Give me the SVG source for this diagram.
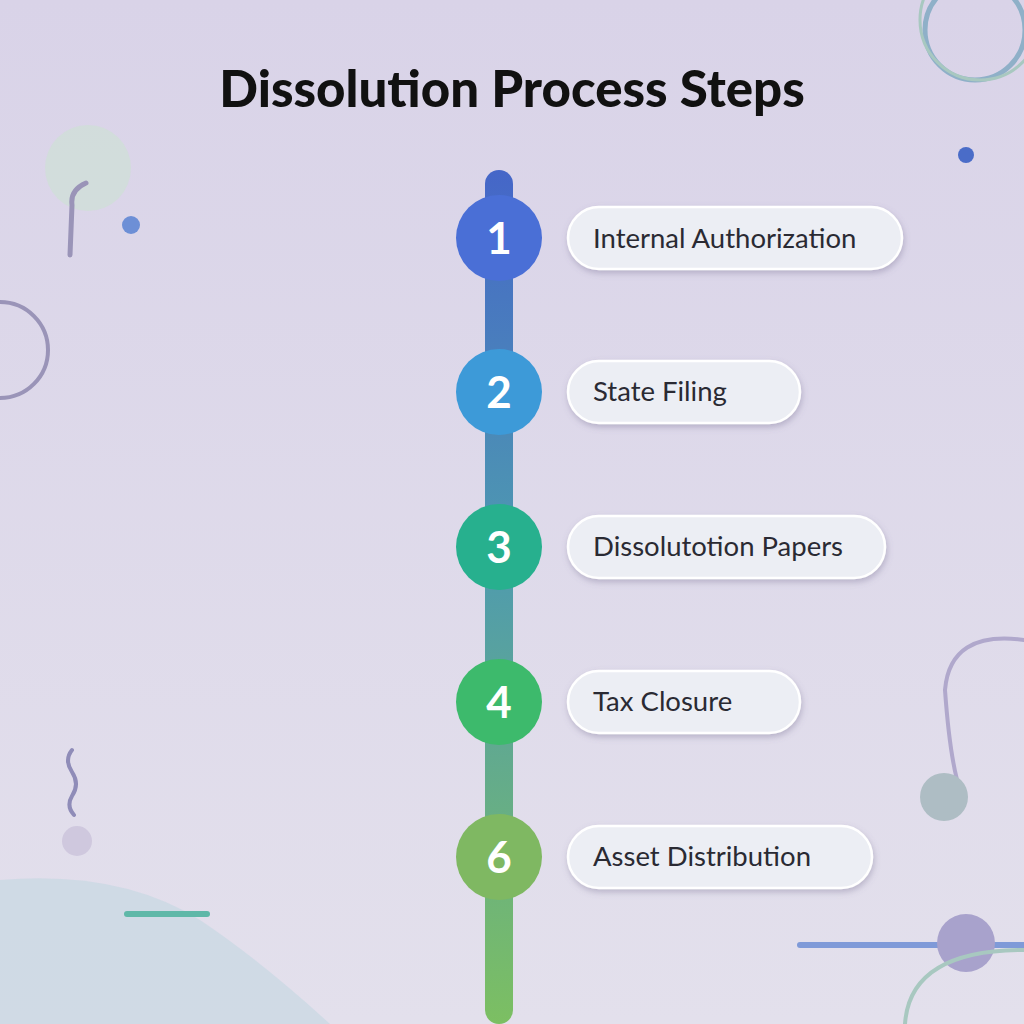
<svg xmlns="http://www.w3.org/2000/svg" width="1024" height="1024" viewBox="0 0 1024 1024">
<defs>
<linearGradient id="bar" x1="0" y1="0" x2="0" y2="1"><stop offset="0" stop-color="#4566c8"/><stop offset="0.45" stop-color="#4e9ab0"/><stop offset="1" stop-color="#7cbf62"/></linearGradient>
<linearGradient id="bg" x1="0" y1="0" x2="0" y2="1"><stop offset="0" stop-color="#d9d3e8"/><stop offset="1" stop-color="#e3e0ec"/></linearGradient>
<filter id="sh" x="-10%" y="-30%" width="120%" height="160%"><feDropShadow dx="1" dy="3" stdDeviation="3" flood-color="#6a6488" flood-opacity="0.35"/></filter>
</defs>
<style>
.pill{fill:#eceef4;stroke:#ffffff;stroke-width:2.5;filter:url(#sh)}
.lbl{font-family:Lato,"Liberation Sans",sans-serif;font-size:27.5px;fill:#2a2a33}
.num{font-family:Lato,"Liberation Sans",sans-serif;font-size:44px;font-weight:bold;fill:#fff;text-anchor:middle}
.deco{fill:none;stroke-linecap:round}
</style>
<rect width="1024" height="1024" fill="url(#bg)"/>
<g id="decorations">
<circle cx="88" cy="168" r="43" fill="#cfe0d6" opacity="0.7"/>
<path d="M86 183 Q70 190 72 205 L70 255" class="deco" stroke="#9a94b8" stroke-width="5"/>
<circle cx="131" cy="225" r="9" fill="#6d8fd6"/>
<circle cx="966" cy="155" r="8" fill="#4a6cc8"/>
<circle cx="0" cy="350" r="48" class="deco" stroke="#9a94b8" stroke-width="4"/>
<circle cx="975" cy="30" r="50" class="deco" stroke="#8fb0c8" stroke-width="5"/>
<circle cx="980" cy="20" r="60" class="deco" stroke="#a8c8c0" stroke-width="3"/>
<path d="M1024 640 Q950 630 945 690 Q950 760 960 790" class="deco" stroke="#b0a8cc" stroke-width="4"/>
<circle cx="944" cy="797" r="24" fill="#aebdc4"/>
<path d="M72 750 Q64 760 72 772 Q80 784 72 796 Q66 806 74 815" class="deco" stroke="#8f8cb8" stroke-width="4"/>
<circle cx="77" cy="841" r="15" fill="#cfc8de"/>
<path d="M0 880 Q120 870 200 920 Q260 960 330 1024 L0 1024Z" fill="#cbd8e4" opacity="0.8"/>
<line x1="127" y1="914" x2="207" y2="914" class="deco" stroke="#5fb8a8" stroke-width="6"/>
<line x1="800" y1="945" x2="1024" y2="945" class="deco" stroke="#7f9ad8" stroke-width="6"/>
<circle cx="966" cy="943" r="29" fill="#a8a2cc"/>
<path d="M1024 950 Q910 950 905 1024" class="deco" stroke="#a8c8c0" stroke-width="4"/>
</g>
<text x="512" y="107" text-anchor="middle" font-family="Lato,'Liberation Sans',sans-serif" font-weight="900" font-size="51" fill="#111">Dissolution Process Steps</text>
<g id="connectors"><rect x="485" y="170" width="28" height="854" rx="14" fill="url(#bar)"/></g>
<g id="step1"><circle cx="499" cy="238" r="43" fill="#4a6fd6"/><text class="num" x="499" y="254">1</text><rect class="pill" x="568" y="207" width="334" height="62" rx="31"/><text class="lbl" x="593" y="248">Internal Authorization</text></g>
<g id="step2"><circle cx="499" cy="392" r="43" fill="#3d9ad8"/><text class="num" x="499" y="408">2</text><rect class="pill" x="568" y="361" width="232" height="62" rx="31"/><text class="lbl" x="593" y="401">State Filing</text></g>
<g id="step3"><circle cx="499" cy="547" r="43" fill="#27b08e"/><text class="num" x="499" y="563">3</text><rect class="pill" x="568" y="516" width="317" height="62" rx="31"/><text class="lbl" x="593" y="556">Dissolutotion Papers</text></g>
<g id="step4"><circle cx="499" cy="702" r="43" fill="#3dba6c"/><text class="num" x="499" y="718">4</text><rect class="pill" x="568" y="671" width="232" height="62" rx="31"/><text class="lbl" x="593" y="711">Tax Closure</text></g>
<g id="step6"><circle cx="499" cy="857" r="43" fill="#7fb862"/><text class="num" x="499" y="873">6</text><rect class="pill" x="568" y="826" width="304" height="62" rx="31"/><text class="lbl" x="593" y="866">Asset Distribution</text></g>
</svg>
